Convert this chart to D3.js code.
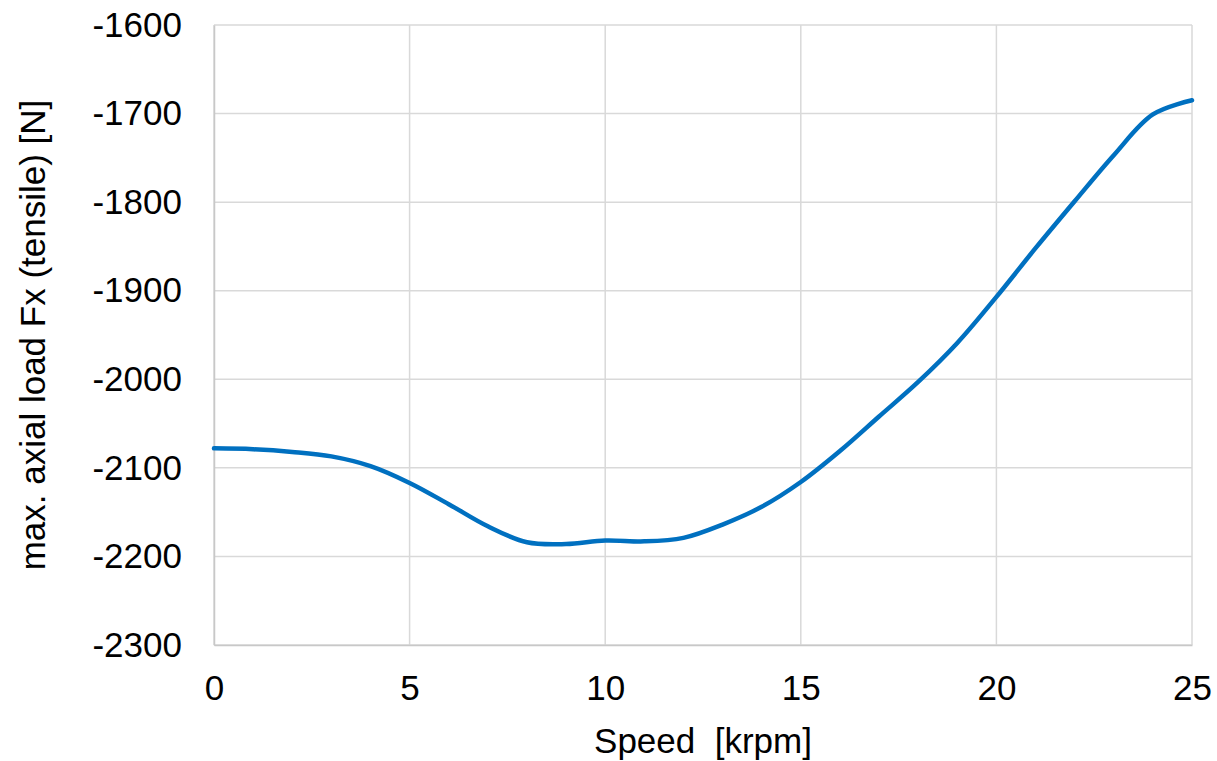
<!DOCTYPE html>
<html>
<head>
<meta charset="utf-8">
<script src="https://cdn.jsdelivr.net/npm/d3@7"></script>
<style>
  html, body { margin: 0; padding: 0; background: #fff; }
  svg { display: block; }
  text { font-family: "Liberation Sans", Arial, sans-serif; fill: #000; }
</style>
</head>
<body>
<svg id="chart" width="1217" height="761"></svg>
<script>
// Speed sweep (krpm) and the max. tensile axial load at each speed (N)
const speeds = [0, 1, 2, 3, 4, 5, 6, 7, 8, 9, 10, 11, 12, 13, 14, 15, 16, 17, 18, 19, 20, 21, 22, 23, 24, 25];
const axialLoad = [-2078, -2079, -2082, -2087, -2098, -2117, -2141, -2166, -2184, -2186, -2182, -2183, -2179,
                   -2164, -2144, -2116, -2081, -2042, -2003, -1959, -1907, -1852, -1799, -1747, -1701, -1685];
const xTicks = [0, 5, 10, 15, 20, 25];
const yTicks = [-1600, -1700, -1800, -1900, -2000, -2100, -2200, -2300];
const xTitle = "Speed\u00a0\u00a0[krpm]";
const yTitle = "max. axial load Fx (tensile) [N]";

const svg = d3.select("#chart");
const margin = { left: 214, right: 25, top: 25, bottom: 116 };
const W = 1217, H = 761;
const pw = W - margin.left - margin.right;
const ph = H - margin.top - margin.bottom;

const x = d3.scaleLinear().domain([0, 25]).range([0, pw]);
const y = d3.scaleLinear().domain([-2300, -1600]).range([ph, 0]);

const g = svg.append("g").attr("transform", `translate(${margin.left},${margin.top})`);

// grid lines
g.append("g")
  .selectAll("line")
  .data(yTicks)
  .join("line")
  .attr("x1", 0).attr("x2", pw)
  .attr("y1", d => y(d)).attr("y2", d => y(d))
  .attr("stroke", "#d9d9d9").attr("stroke-width", 1.5);

g.append("g")
  .selectAll("line")
  .data(xTicks)
  .join("line")
  .attr("x1", d => x(d)).attr("x2", d => x(d))
  .attr("y1", 0).attr("y2", ph)
  .attr("stroke", "#d9d9d9").attr("stroke-width", 1.5);

// plain hyphen-minus labels
const fmt = d => String(d);

const xAxis = g.append("g")
  .attr("transform", `translate(0,${ph})`)
  .call(d3.axisBottom(x).tickValues(xTicks).tickSize(0).tickPadding(30).tickFormat(fmt));
xAxis.select(".domain").attr("stroke", "#c8c8c8").attr("stroke-width", 1.5);
xAxis.selectAll("text").style("font-size", "35px").attr("font-family", "Liberation Sans, Arial, sans-serif");

const yAxis = g.append("g")
  .call(d3.axisLeft(y).tickValues(yTicks).tickSize(0).tickPadding(32).tickFormat(fmt));
yAxis.select(".domain").attr("stroke", "#c8c8c8").attr("stroke-width", 1.5);
yAxis.selectAll("text").style("font-size", "35px").attr("font-family", "Liberation Sans, Arial, sans-serif");

// series line
const line = d3.line()
  .x((d, i) => x(speeds[i]))
  .y(d => y(d))
  .curve(d3.curveCatmullRom.alpha(0.5));

g.append("path")
  .datum(axialLoad)
  .attr("fill", "none")
  .attr("stroke", "#0070c0")
  .attr("stroke-width", 4.5)
  .attr("stroke-linejoin", "round")
  .attr("stroke-linecap", "round")
  .attr("d", line);

// axis titles
svg.append("text")
  .attr("x", margin.left + pw / 2)
  .attr("y", 753)
  .attr("text-anchor", "middle")
  .style("font-size", "35px")
  .text(xTitle);

svg.append("text")
  .attr("transform", `translate(45,${margin.top + ph / 2}) rotate(-90)`)
  .attr("text-anchor", "middle")
  .style("font-size", "35px")
  .text(yTitle);
</script>
</body>
</html>
